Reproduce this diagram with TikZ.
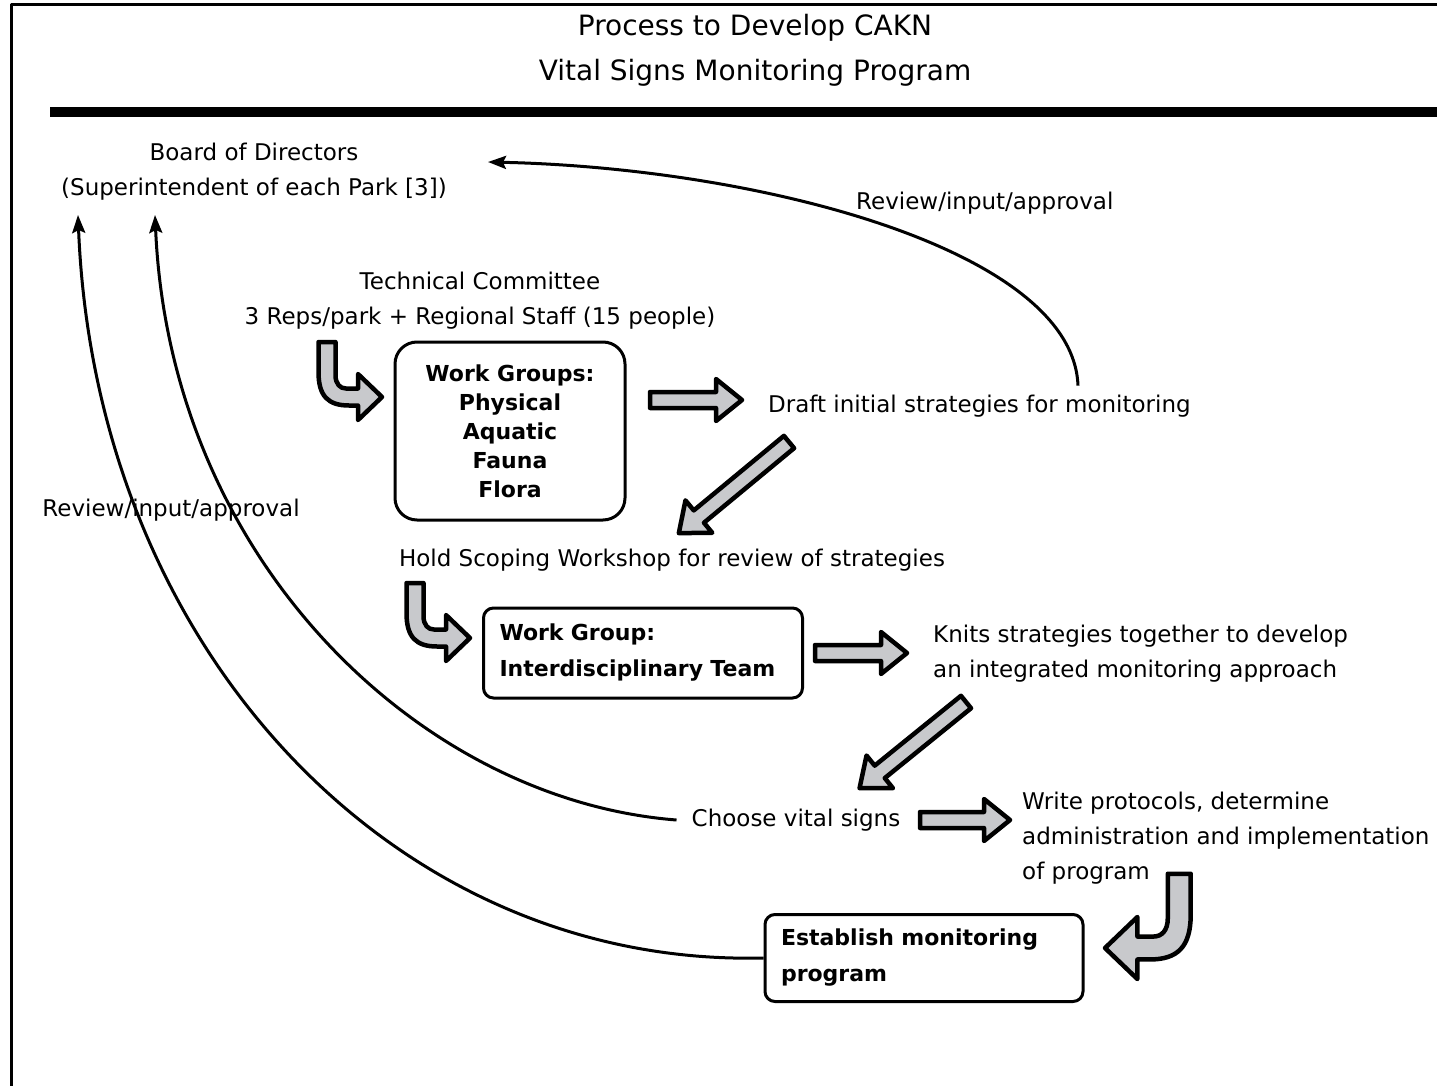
\documentclass[tikz,border=0pt]{standalone}
\usepackage{fontspec}
\setmainfont{DejaVu Sans}
\usetikzlibrary{arrows.meta}
\definecolor{arrowgray}{RGB}{200,201,204}

\begin{document}
\begin{tikzpicture}[x=1pt, y=-1pt, line join=round,
	every node/.style={font=\fontsize{23}{35}\selectfont, inner sep=3pt},
	box/.style={draw, line width=3pt, rounded corners=10pt, font=\fontsize{22}{36}\selectfont\bfseries, align=left, inner xsep=16pt},
	curve/.style={line width=3pt, -{Stealth[length=18pt, width=13pt, inset=3pt]}},
	pics/blockarrow/.style={code={
		\draw[line width=4.5pt, fill=arrowgray] (0,-8) -- (#1-26,-8) -- (#1-26,-21) -- (#1,0) -- (#1-26,21) -- (#1-26,8) -- (0,8) -- cycle;}},
	pics/bendarrow/.style={code={
		\draw[line width=4.5pt, fill=arrowgray] (-63.5,-55) -- (-63.5,-25) .. controls (-63.5,-1) and (-54,8.5) .. (-33,8.5) -- (-24,8.5) -- (-24,23) -- (0,0) -- (-24,-23) -- (-24,-8.5) -- (-36,-8.5) .. controls (-42,-8.5) and (-46.5,-13) .. (-46.5,-22) -- (-46.5,-55) -- cycle;}}]
	\useasboundingbox (0,0) rectangle (1437,1086);
	\draw[line width=3pt] (1437,5) -- (11,5) -- (11,1086);
	\fill (50,107) rectangle (1437,117);
	\node (title) at (755,50) [font=\fontsize{28}{45}\selectfont, align=center] {Process to Develop CAKN\\Vital Signs Monitoring Program};

	\node (board) at (254,172) [align=center] {Board of Directors\\(Superintendent of each Park [3])};
	\node (revtop) [anchor=west] at (853,203) {Review/input/approval};
	\node (tech) at (480,301) [align=center] {Technical Committee\\3 Reps/park + Regional Staff (15 people)};
	\node (groups) [box, rounded corners=22pt, align=center, minimum width=230pt, minimum height=178pt, font=\fontsize{22}{29}\selectfont\bfseries] at (510,431) {Work Groups:\\Physical\\Aquatic\\Fauna\\Flora};
	\node (draft) [anchor=west] at (765,406) {Draft initial strategies for monitoring};
	\node (scoping) at (672,560) {Hold Scoping Workshop for review of strategies};
	\node (team) [box, text width=287pt, minimum height=90pt] at (643,653) {Work Group:\\Interdisciplinary Team};
	\node (knits) [anchor=west, align=left] at (930,654) {Knits strategies together to develop\\an integrated monitoring approach};
	\node (choose) at (796,820) {Choose vital signs};
	\node (write) [anchor=west, align=left] at (1019,838) {Write protocols, determine\\administration and implementation\\of program};
	\node (establish) [box, text width=286pt, minimum height=87pt] at (924,958) {Establish monitoring\\program};
	\node (revleft) at (171,510) {Review/input/approval};

	\coordinate (boardin) at (488,162);
	\coordinate (outerin) at (78,215);
	\coordinate (innerin) at (155,215);
	\draw[curve] ([xshift=313pt, yshift=6pt]draft.north west) .. controls (1073,250) and (760,168) .. (boardin);
	\draw[curve] (establish.west) -- +(-30,0) .. controls (380,950) and (95,640) .. (outerin);
	\draw[curve] ([xshift=-12pt]choose.west) .. controls (420,800) and (170,560) .. (innerin);

	\pic (arrowa) at (650,400) {blockarrow=92};
	\pic (arrowb) [rotate=219.6] at (789,442) {blockarrow=143};
	\pic (arrowc) at (815,653) {blockarrow=92};
	\pic (arrowd) [rotate=219] at (966,702) {blockarrow=137};
	\pic (arrowe) at (920,820) {blockarrow=90};
	\pic (benda) at (382,397) {bendarrow};
	\pic (bendb) at (470,638) {bendarrow};
	\pic (bendc) [scale=1.35, xscale=-1] at (1105,948) {bendarrow};
\end{tikzpicture}
\end{document}
